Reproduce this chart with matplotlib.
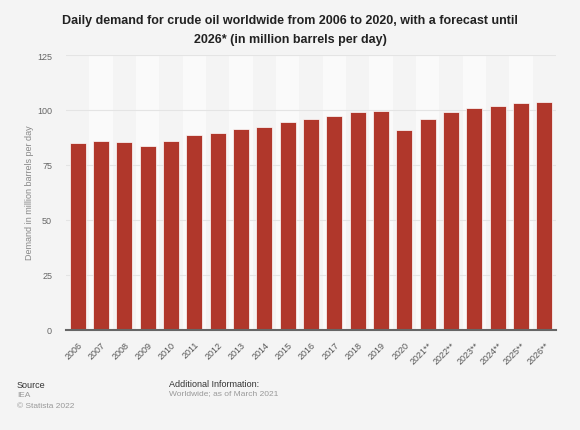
import matplotlib
matplotlib.use("Agg")
import matplotlib.pyplot as plt
import numpy as np

plt.rcParams['font.family'] = ['Liberation Sans', 'DejaVu Sans']

years = ["2006", "2007", "2008", "2009", "2010", "2011", "2012", "2013", "2014",
         "2015", "2016", "2017", "2018", "2019", "2020", "2021**", "2022**",
         "2023**", "2024**", "2025**", "2026**"]
demand = [84.9, 85.9, 85.5, 83.8, 85.9, 88.6, 89.4, 91.5, 92.3, 94.7, 95.9,
          97.4, 98.9, 99.5, 90.9, 95.9, 99.2, 100.9, 102.0, 103.0, 103.6]
yticks = [0, 25, 50, 75, 100, 125]

bg = "#f4f4f4"
fig = plt.figure(figsize=(5.8, 4.31), dpi=100, facecolor=bg)
ax = fig.add_axes([66/580, 1-331/431, 490/580, 275/431])
ax.set_facecolor(bg)

x = np.arange(len(years))
for i in x:
    if i % 2 == 1:
        ax.axvspan(i-0.5, i+0.5, color="#fafafa", zorder=0, lw=0)
for t in yticks[1:]:
    ax.axhline(t, color="#e4e4e4", lw=0.8, zorder=1)

ax.bar(x, demand, width=0.69, color="#b0372b", edgecolor="white", linewidth=0.5, zorder=3)

ax.set_xlim(-0.5, len(years)-0.5)
ax.set_ylim(0, 125)
ax.set_yticks(yticks)
ax.set_yticklabels([str(t) for t in yticks], fontsize=6.5, color="#666666")
ax.set_xticks(x)
ax.set_xticklabels(years, rotation=45, ha="right", rotation_mode="anchor",
                   fontsize=6.5, color="#555555")
ax.tick_params(axis="both", length=0)
ax.tick_params(axis="y", pad=10)
ax.tick_params(axis="x", pad=7)
for s in ["top", "right", "left"]:
    ax.spines[s].set_visible(False)
ax.spines["bottom"].set_color("#666666")
ax.spines["bottom"].set_linewidth(1.5)
ax.spines["bottom"].set_zorder(4)

fig.text(29/580, 1-193/431, "Demand in million barrels per day", rotation=90,
         ha="center", va="center", fontsize=6.5, color="#888888")

fig.text(290/580, 1-21/431, "Daily demand for crude oil worldwide from 2006 to 2020, with a forecast until",
         ha="center", va="center", fontsize=9, fontweight="bold", color="#222222")
fig.text(290/580, 1-40/431, "2026* (in million barrels per day)",
         ha="center", va="center", fontsize=9, fontweight="bold", color="#222222")

fig.text(17/580, 1-386/431, "Source", fontsize=6.5, color="#333333", va="center")
fig.text(17/580, 1-396/431, "IEA", fontsize=6, color="#999999", va="center")
fig.text(17/580, 1-407/431, "© Statista 2022", fontsize=6, color="#999999", va="center")
fig.text(169/580, 1-385/431, "Additional Information:", fontsize=6.5, color="#333333", va="center")
fig.text(169/580, 1-394/431, "Worldwide; as of March 2021", fontsize=6, color="#999999", va="center")

fig.savefig("out.png", dpi=100, facecolor=bg)
